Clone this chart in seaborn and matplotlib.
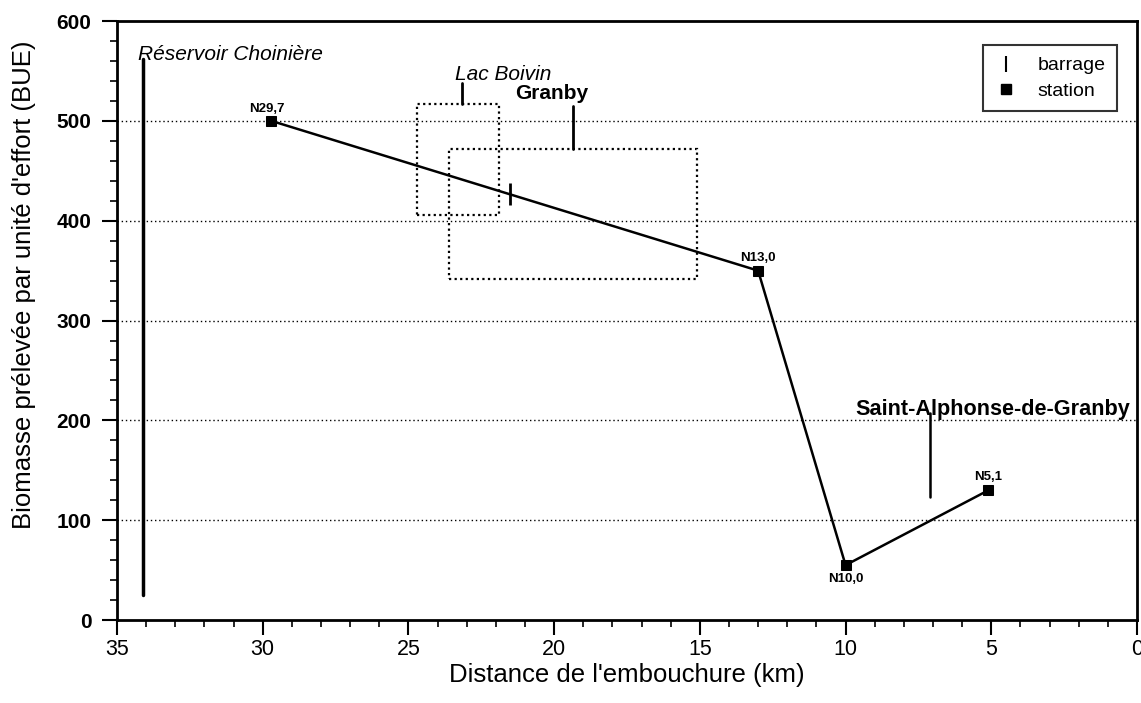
import matplotlib
matplotlib.use("Agg")
import matplotlib.pyplot as plt
from matplotlib.lines import Line2D
from matplotlib.patches import Rectangle
from matplotlib.ticker import MultipleLocator
import pandas as pd
import seaborn as sns

# Stations along the river (distance from the mouth, km) and biomass per unit effort
station_names = ["N29,7", "N13,0", "N10,0", "N5,1"]
distance_km = [29.7, 13.0, 10.0, 5.1]
bue = [500, 350, 55, 130]

# Dam location on the river profile
barrage_km = [21.5]
barrage_bue = [427]

# Lakes / towns shown as framed zones: (x_min, x_max, y_min, y_max)
lac_boivin_zone = (21.9, 24.7, 406, 517)
granby_zone = (15.1, 23.6, 342, 472)

y_ticks = [0, 100, 200, 300, 400, 500, 600]
x_ticks = [35, 30, 25, 20, 15, 10, 5, 0]

sns.set_theme(style="white")
plt.rcParams["font.family"] = ["Liberation Sans", "DejaVu Sans"]
plt.rcParams.update({"text.color": "black", "axes.labelcolor": "black",
                     "xtick.color": "black", "ytick.color": "black"})

fig = plt.figure(figsize=(11.41, 7.03), dpi=100)
ax = fig.add_axes([0.1025, 0.118, 0.894, 0.852])

df = pd.DataFrame({"distance": distance_km, "bue": bue, "station": station_names})
sns.lineplot(data=df, x="distance", y="bue", ax=ax, color="black", linewidth=1.8,
             marker="s", markersize=7, markeredgecolor="black", markerfacecolor="black",
             sort=False, estimator=None)

# dam marker
ax.plot(barrage_km, barrage_bue, linestyle="none", marker="|", markersize=16,
        markeredgewidth=2, color="black")

ax.set_xlim(35, 0)
ax.set_ylim(0, 600)
ax.set_xticks(x_ticks)
ax.set_yticks(y_ticks)
ax.xaxis.set_minor_locator(MultipleLocator(1))
ax.yaxis.set_minor_locator(MultipleLocator(20))

# horizontal dotted grid
for yv in y_ticks[1:-1]:
    ax.axhline(yv, color="black", linewidth=1.0, linestyle=(0, (1, 2)), zorder=0.5)

for side in ["left", "right", "top", "bottom"]:
    ax.spines[side].set_visible(True)
    ax.spines[side].set_color("black")
    ax.spines[side].set_linewidth(2.0)

ax.tick_params(axis="both", which="major", direction="out", length=10.5, width=1.5,
               color="black", bottom=True, left=True)
ax.tick_params(axis="both", which="minor", direction="out", length=5, width=1.2,
               color="black", bottom=True, left=True)
ax.tick_params(axis="y", labelsize=15, pad=8)
ax.tick_params(axis="x", labelsize=15.5, pad=3)
for lbl in ax.get_yticklabels():
    lbl.set_fontweight("bold")

ax.set_xlabel("Distance de l'embouchure (km)", fontsize=18.5, color="black", labelpad=2)
ax.set_ylabel("Biomasse prélevée par unité d'effort (BUE)", fontsize=18.5, color="black")
ax.yaxis.set_label_coords(-0.079, 0.56)

# station labels
label_offsets = {"N29,7": (-3, 4, "bottom"), "N13,0": (0, 5, "bottom"),
                 "N10,0": (0, -6, "top"), "N5,1": (0, 5, "bottom")}
for name, xv, yv in zip(station_names, distance_km, bue):
    dx, dy, va = label_offsets[name]
    ax.annotate(name, (xv, yv), xytext=(dx, dy), textcoords="offset points",
                ha="center", va=va, fontsize=9.5, fontweight="bold", color="black")

# framed zones
for (x0, x1, y0, y1) in (lac_boivin_zone, granby_zone):
    ax.add_patch(Rectangle((x1, y0), x0 - x1, y1 - y0, fill=False, edgecolor="black",
                           linewidth=1.6, linestyle=(0, (1, 1.5)), zorder=1))

# Lac Boivin label and leader
ax.plot([23.15, 23.15], [lac_boivin_zone[3], 538], color="black", linewidth=2)
ax.text(23.4, 546, "Lac Boivin", fontsize=15, fontstyle="italic", ha="left", va="center")
# Granby label and leader
ax.plot([19.35, 19.35], [granby_zone[3], 515], color="black", linewidth=2)
ax.text(21.34, 527, "Granby", fontsize=15, fontweight="bold", ha="left", va="center")

# Réservoir Choinière
ax.plot([34.1, 34.1], [25, 562], color="black", linewidth=2.5)
ax.text(34.28, 567, "Réservoir Choinière", fontsize=15, fontstyle="italic",
        ha="left", va="center")

# Saint-Alphonse-de-Granby
ax.plot([7.1, 7.1], [123, 207], color="black", linewidth=1.8)
ax.text(9.67, 211, "Saint-Alphonse-de-Granby", fontsize=15.6, fontweight="bold",
        ha="left", va="center")

handles = [
    Line2D([], [], linestyle="none", marker="|", markersize=12, markeredgewidth=1.5,
           color="black", label="barrage"),
    Line2D([], [], linestyle="none", marker="s", markersize=7, color="black",
           label="station"),
]
leg = ax.legend(handles=handles, loc="upper right", bbox_to_anchor=(0.9804, 0.96),
                borderaxespad=0, frameon=True, fancybox=False, fontsize=14,
                handlelength=1.2, handletextpad=1.0, borderpad=0.6, labelspacing=0.4)
leg.get_frame().set_edgecolor("black")
leg.get_frame().set_linewidth(1.5)

fig.savefig("out.png", dpi=100, facecolor="white")
